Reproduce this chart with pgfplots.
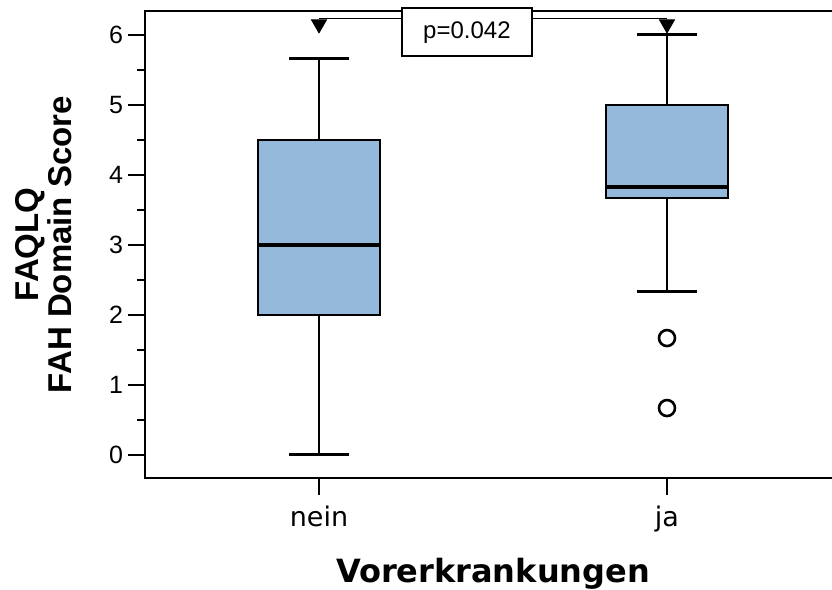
\documentclass[border=0pt]{standalone}
\usepackage{pgfplots}
\pgfplotsset{compat=1.18}
\usepgfplotslibrary{statistics}
\usepackage{fontspec}
\setmainfont{Liberation Sans}
\newfontfamily\dejavu{DejaVu Sans}
\definecolor{boxblue}{RGB}{149,185,219}
\begin{document}
\begin{tikzpicture}
\useasboundingbox (0,0) rectangle (416pt,295pt);
\begin{axis}[
  at={(72.5pt,56pt)}, anchor=south west,
  x=174pt, y=35pt,
  xmin=0.5, xmax=2.5, ymin=-0.329, ymax=6.343,
  clip=false,
  axis line style={line width=1pt},
  xtick={1,2}, xticklabels={nein,ja},
  ytick={0,1,2,3,4,5,6}, minor ytick={0.5,1.5,2.5,3.5,4.5,5.5},
  tick align=outside, xtick pos=left, ytick pos=left,
  major tick length=8.5pt, minor tick length=4pt,
  every tick/.style={black, line width=1pt},
  /pgf/number format/assume math mode=true,
  yticklabel style={font=\fontsize{12.5}{15}\selectfont, xshift=1pt},
  xticklabel style={font=\dejavu\fontsize{13.5}{16}\selectfont, yshift=-2pt},
  xlabel={Vorerkrankungen},
  xlabel style={font=\dejavu\bfseries\fontsize{16}{19}\selectfont, at={(axis description cs:0.5,-0.2227)}, anchor=base},
  ylabel={FAQLQ\\FAH Domain Score},
  ylabel style={font=\bfseries\fontsize{16.5}{16.5}\selectfont, align=center, at={(axis description cs:-0.1456,0.5)}, anchor=center},
  boxplot/draw direction=y,
]
\addplot[boxplot prepared={draw position=1, lower whisker=0, lower quartile=2, median=3, upper quartile=4.5, upper whisker=5.67, box extend=0.35, whisker extend=0.17}, draw=black, fill=boxblue, line width=0.75pt, solid, mark=none] coordinates {};
\addplot[boxplot prepared={draw position=2, lower whisker=2.33, lower quartile=3.67, median=3.83, upper quartile=5.0, upper whisker=6.0, box extend=0.35, whisker extend=0.17}, draw=black, fill=boxblue, line width=0.75pt, solid, mark=none] coordinates {};
% medians (thick)
\addplot[line width=1.75pt, black] coordinates {(0.825,3.0) (1.175,3.0)};
\addplot[line width=1.75pt, black] coordinates {(1.825,3.83) (2.175,3.83)};
% whisker caps
\addplot[line width=1.5pt, black] coordinates {(0.914,5.67) (1.086,5.67)};
\addplot[line width=1.5pt, black] coordinates {(0.914,0) (1.086,0)};
\addplot[line width=1.5pt, black] coordinates {(1.914,6.0) (2.086,6.0)};
\addplot[line width=1.5pt, black] coordinates {(1.914,2.33) (2.086,2.33)};
% outliers
\addplot[only marks, mark=o, mark size=4pt, mark options={line width=1.3pt, draw=black}] coordinates {(2,1.67) (2,0.67)};
% significance bracket
\addplot[line width=0.6pt, black] coordinates {(1,6.24) (2,6.24)};
\addplot[only marks, mark=triangle*, mark size=4.35pt, mark options={rotate=180, fill=black, draw=black}] coordinates {(1,6.154) (2,6.154)};
\coordinate (pbox) at (axis cs:1.425,6.04);
\end{axis}
\node[draw=black, fill=white, line width=0.75pt, minimum width=65pt, minimum height=24pt, inner sep=0pt, font=\fontsize{12}{14}\selectfont] at (pbox) {p=0.042};
\end{tikzpicture}
\end{document}
